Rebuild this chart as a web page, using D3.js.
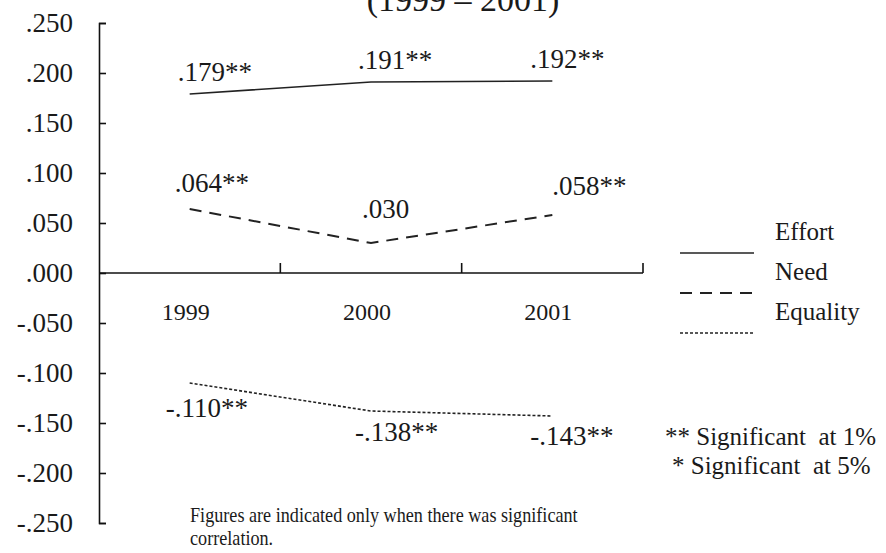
<!DOCTYPE html>
<html>
<head>
<meta charset="utf-8">
<script src="https://cdn.jsdelivr.net/npm/d3@7"></script>
<style>
  body { margin: 0; background: #fff; }
  svg { display: block; }
  text { font-family: "Liberation Serif", "Times New Roman", serif; fill: #1a1a1a; }
</style>
</head>
<body>
<svg class="line-chart" width="886" height="553"></svg>
<script>
// chart values
const years = ['1999', '2000', '2001'];
const seriesNames = ['Effort', 'Need', 'Equality'];
const effortValues = [0.179, 0.191, 0.192];
const needValues = [0.064, 0.030, 0.058];
const equalityValues = [-0.110, -0.138, -0.143];
const effortSig = ['**', '**', '**'];
const needSig = ['**', '', '**'];
const equalitySig = ['**', '**', '**'];
const yTicks = [0.25, 0.2, 0.15, 0.1, 0.05, 0, -0.05, -0.1, -0.15, -0.2, -0.25];
const titleText = '(1999 \u2013 2001)';
const sigNotes = ['** Significant  at 1%', '* Significant  at 5%'];
const footNotes = ['Figures are indicated only when there was significant', 'correlation.'];

const series = [
  { name: seriesNames[0], values: effortValues, sig: effortSig },
  { name: seriesNames[1], values: needValues, sig: needSig },
  { name: seriesNames[2], values: equalityValues, sig: equalitySig }
];

// styles per series
const dash = { Effort: null, Need: '12,8', Equality: '3,2' };
const strokeW = { Effort: 1.6, Need: 2, Equality: 1.6 };
// label offsets (dx, dy) from each point
const labelOffset = {
  Effort: [[-12, -13], [-13, -13], [-22, -13]],
  Need: [[-15, -17], [-9, -25], [0, -20]],
  Equality: [[-24, 34], [-16, 30], [-22, 29]]
};

const width = 886, height = 553;
const leftMargin = 99, plotRight = 643;
const vis = d3.select('.line-chart');

const yRange = d3.scaleLinear().domain([-0.25, 0.25]).range([523, 23]);
const xRange = d3.scaleBand().domain(years).range([leftMargin, plotRight]);
const xMid = (d) => xRange(d) + xRange.bandwidth() / 2;

// ".250", "-.050" style, plain hyphen for the sign
const fmt = (v) => d3.format('.3f')(v).replace('\u2212', '-').replace('0.', '.');

// y axis, ticks pointing into the plot
const yAxis = d3.axisLeft(yRange)
  .tickValues(yTicks)
  .tickSize(-7)
  .tickPadding(26)
  .tickFormat(fmt);

vis.append('g')
  .attr('class', 'y axis')
  .attr('transform', `translate(${leftMargin},0)`)
  .call(yAxis)
  .call(g => g.select('.domain').attr('stroke', '#111').attr('stroke-width', 1.6))
  .call(g => g.selectAll('.tick line').attr('stroke', '#111').attr('stroke-width', 1.6))
  .call(g => g.selectAll('.tick text')
    .attr('font-size', 27)
    .attr('fill', '#1a1a1a')
    .style('font-family', '"Liberation Serif", serif'));

// x axis along zero, ticks at band edges pointing up
const y0 = yRange(0);
vis.append('line')
  .attr('x1', leftMargin).attr('x2', plotRight)
  .attr('y1', y0).attr('y2', y0)
  .attr('stroke', '#111').attr('stroke-width', 1.6);

vis.selectAll('.xtick')
  .data(years)
  .enter().append('line')
  .attr('class', 'xtick')
  .attr('x1', d => xRange(d) + xRange.bandwidth())
  .attr('x2', d => xRange(d) + xRange.bandwidth())
  .attr('y1', y0).attr('y2', y0 - 10)
  .attr('stroke', '#111').attr('stroke-width', 1.6);

vis.selectAll('.xlabel')
  .data(years)
  .enter().append('text')
  .attr('class', 'xlabel')
  .attr('x', d => xMid(d) - 4)
  .attr('y', y0 + 47)
  .attr('text-anchor', 'middle')
  .attr('font-size', 24)
  .text(d => d);

// series lines
const line = d3.line()
  .x((d, i) => xMid(years[i]))
  .y(d => yRange(d));

series.forEach(s => {
  vis.append('path')
    .attr('d', line(s.values))
    .attr('stroke', '#222')
    .attr('stroke-width', strokeW[s.name])
    .attr('stroke-dasharray', dash[s.name])
    .attr('fill', 'none');

  vis.selectAll(`.lbl-${s.name}`)
    .data(s.values)
    .enter().append('text')
    .attr('class', `lbl-${s.name}`)
    .attr('x', (d, i) => xMid(years[i]) + labelOffset[s.name][i][0])
    .attr('y', (d, i) => yRange(d) + labelOffset[s.name][i][1])
    .attr('font-size', 27)
    .text((d, i) => fmt(d) + s.sig[i]);
});

// legend
const legend = vis.append('g').attr('transform', 'translate(680,240)');
series.forEach((s, i) => {
  legend.append('text')
    .attr('x', 95).attr('y', i * 40)
    .attr('font-size', 25)
    .text(s.name);
  legend.append('line')
    .attr('x1', 0).attr('x2', 74)
    .attr('y1', i * 40 + 13).attr('y2', i * 40 + 13)
    .attr('stroke', '#222')
    .attr('stroke-width', strokeW[s.name])
    .attr('stroke-dasharray', dash[s.name]);
});

// title, cut off by the top edge
vis.append('text')
  .attr('x', 463).attr('y', 11)
  .attr('text-anchor', 'middle')
  .attr('font-size', 34)
  .text(titleText);

// significance notes
vis.selectAll('.sig')
  .data(sigNotes)
  .enter().append('text')
  .attr('class', 'sig')
  .attr('x', (d, i) => i === 0 ? 665 : 672)
  .attr('y', (d, i) => 445 + i * 29)
  .attr('font-size', 25)
  .style('white-space', 'pre')
  .text(d => d);

// foot note, squeezed like the original
const foot = vis.append('g').attr('class', 'foot');
foot.selectAll('text')
  .data(footNotes)
  .enter().append('text')
  .attr('x', 0)
  .attr('y', (d, i) => i * 23)
  .attr('font-size', 22)
  .text(d => d);
const firstLen = foot.select('text').node().getComputedTextLength();
foot.attr('transform', `translate(190,522) scale(${388 / firstLen},1)`);
</script>
</body>
</html>
